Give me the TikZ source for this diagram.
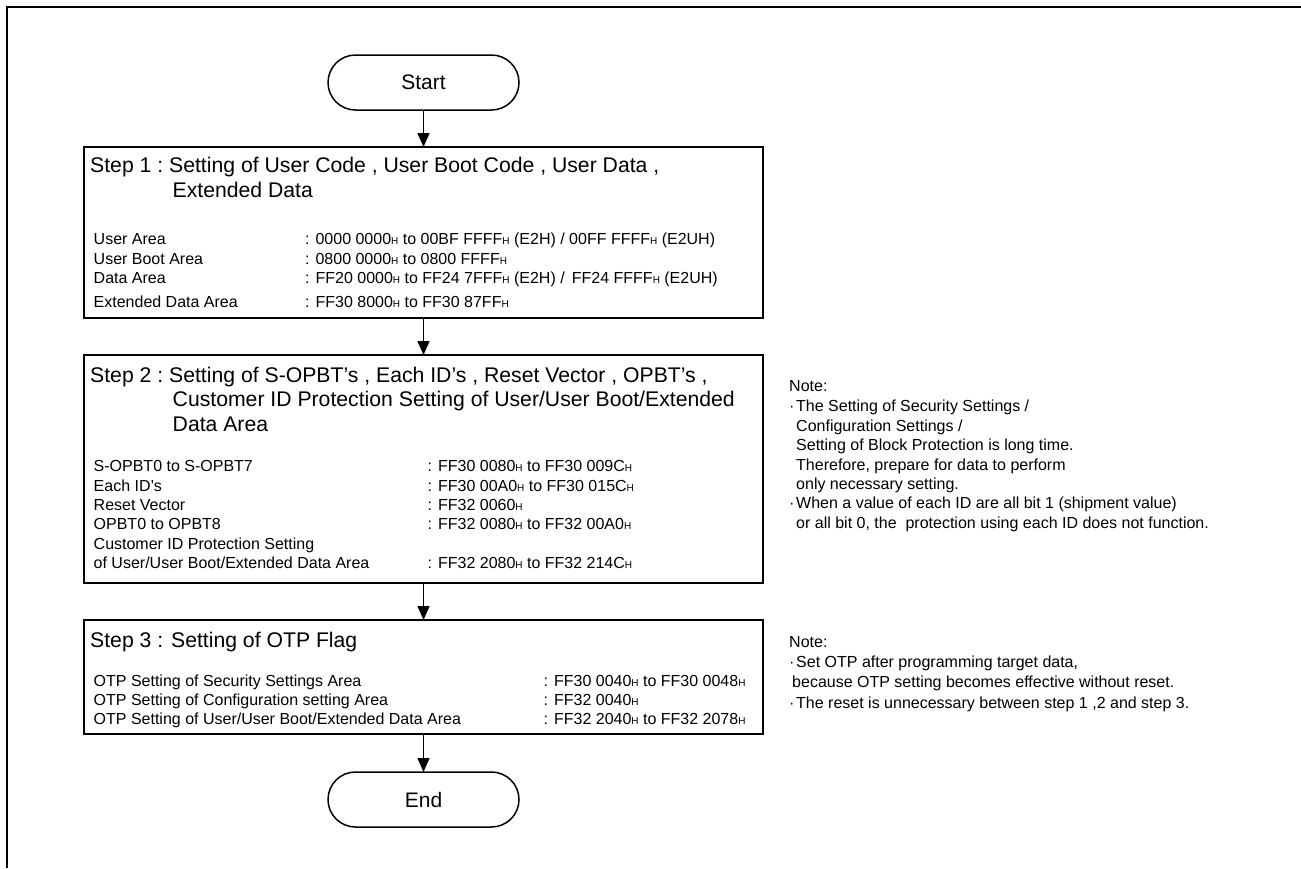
\documentclass[tikz,border=0pt]{standalone}
\usepackage{fontspec}
\setmainfont{Liberation Sans}
\usetikzlibrary{positioning,arrows.meta}
\newcommand{\hx}{{\fontsize{10}{10}\selectfont H}}
\newcommand{\bul}{\makebox[7pt][l]{·}}
\tikzset{
  term/.style={draw, line width=1.5pt, rounded corners=27.5pt, outer sep=0pt,
               minimum width=191pt, minimum height=55pt, inner sep=0pt,
               font=\fontsize{21}{24}\selectfont},
  stepbox/.style={draw, line width=1.6pt, minimum width=679pt, outer sep=0pt, inner sep=0pt},
  ttl/.style={anchor=base west, inner sep=0pt, font=\fontsize{21.2}{24.5}\selectfont},
  dtl/.style={anchor=base west, inner sep=0pt, font=\fontsize{16}{19.4}\selectfont},
  fa/.style={-{Triangle[length=14pt,width=12pt]}, line width=1.5pt}
}
\begin{document}
\begin{tikzpicture}[x=1pt, y=-1pt, node distance=37pt]
  \useasboundingbox (0,0) rectangle (1301,868);
  \draw[line width=2pt] (7,868) -- (7,7) -- (1301,7);
  % flow
  \node[term] (start) at (423.5,82.5) {Start};
  \node[stepbox, minimum height=171pt, below=of start] (s1) {};
  \node[stepbox, minimum height=228pt, below=of s1] (s2) {};
  \node[stepbox, minimum height=114pt, below=of s2] (s3) {};
  \node[term, below=38pt of s3] (stop) {End};
  \draw[fa] (start) -- (s1);
  \draw[fa] (s1) -- (s2);
  \draw[fa] (s2) -- (s3);
  \draw[fa] (s3) -- (stop);
  % step 1
  \node[ttl] (s1t) at ([shift={(6,25.5)}]s1.north west)
    {\begin{tabular}[t]{@{}l@{\ }l@{}}Step 1 : & Setting of User Code , User Boot Code , User Data ,\\
      & \,Extended Data\end{tabular}};
  \node[dtl] (s1d) at ([shift={(9.5,97.7)}]s1.north west)
    {\begin{tabular}[t]{@{}p{211.5pt}@{}l@{}}
      User Area & : 0000 0000\hx{} to 00BF FFFF\hx{} (E2H) / 00FF FFFF\hx{} (E2UH)\\
      User Boot Area & : 0800 0000\hx{} to 0800 FFFF\hx\\
      Data Area & : FF20 0000\hx{} to FF24 7FFF\hx{} (E2H) / \,FF24 FFFF\hx{} (E2UH)\\[5pt]
      Extended Data Area & : FF30 8000\hx{} to FF30 87FF\hx
    \end{tabular}};
  % step 2
  \node[ttl] (s2t) at ([shift={(6,27.4)}]s2.north west)
    {\begin{tabular}[t]{@{}l@{\ }l@{}}Step 2 : & Setting of S-OPBT’s , Each ID’s , Reset Vector , OPBT’s ,\\
      & \,Customer ID Protection Setting of User/User Boot/Extended\\
      & \,Data Area\end{tabular}};
  \node[dtl] (s2d) at ([shift={(9.5,116.7)}]s2.north west)
    {\begin{tabular}[t]{@{}p{334pt}@{}l@{}}
      S-OPBT0 to S-OPBT7 & : FF30 0080\hx{} to FF30 009C\hx\\
      Each ID’s & : FF30 00A0\hx{} to FF30 015C\hx\\
      Reset Vector & : FF32 0060\hx\\
      OPBT0 to OPBT8 & : FF32 0080\hx{} to FF32 00A0\hx\\
      Customer ID Protection Setting & \\
      of User/User Boot/Extended Data Area & : FF32 2080\hx{} to FF32 214C\hx
    \end{tabular}};
  % step 3
  \node[ttl] (s3t) at ([shift={(6,27)}]s3.north west) {Step 3 : Setting of OTP Flag};
  \node[dtl] (s3d) at ([shift={(9.5,66)}]s3.north west)
    {\begin{tabular}[t]{@{}p{450pt}@{}l@{}}
      OTP Setting of Security Settings Area & : FF30 0040\hx{} to FF30 0048\hx\\
      OTP Setting of Configuration setting Area & : FF32 0040\hx\\
      OTP Setting of User/User Boot/Extended Data Area & : FF32 2040\hx{} to FF32 2078\hx
    \end{tabular}};
  % notes
  \node[dtl] (n1) at (789,391)
    {\begin{tabular}[t]{@{}l@{}}Note:\\[1.5pt]
      \bul The Setting of Security Settings /\\
      \hspace{7pt}Configuration Settings /\\
      \hspace{7pt}Setting of Block Protection is long time.\\
      \hspace{7pt}Therefore, prepare for data to perform\\
      \hspace{7pt}only necessary setting.\\
      \bul When a value of each ID are all bit 1 (shipment value)\\
      \hspace{7pt}or all bit 0, the \ protection using each ID does not function.
    \end{tabular}};
  \node[dtl] (n2) at (789,647)
    {\begin{tabular}[t]{@{}l@{}}Note:\\[1.5pt]
      \bul Set OTP after programming target data,\\
      \hspace{3pt}because OTP setting becomes effective without reset.\\[1.5pt]
      \bul The reset is unnecessary between step 1 ,2 and step 3.
    \end{tabular}};
\end{tikzpicture}
\end{document}
